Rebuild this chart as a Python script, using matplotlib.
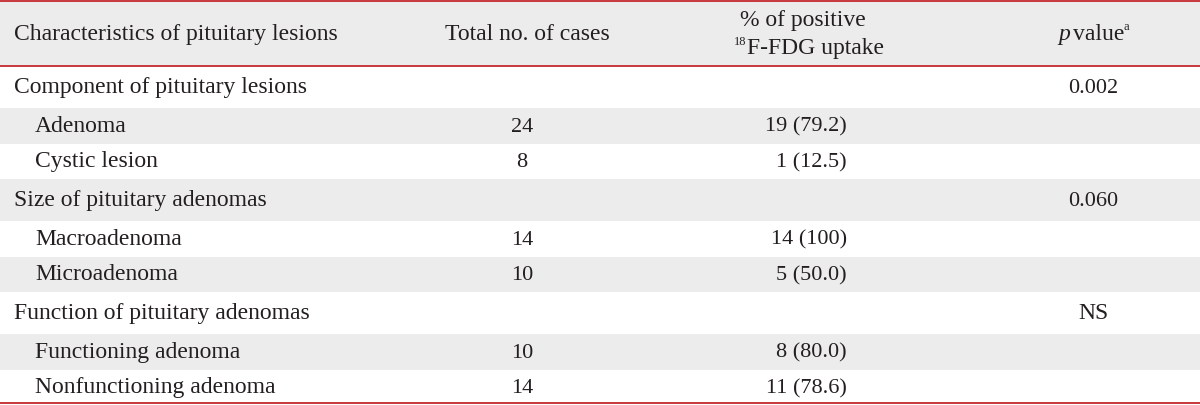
import matplotlib
matplotlib.use("Agg")
import matplotlib.pyplot as plt
from matplotlib.patches import Rectangle

# table content
labels = ["Component of pituitary lesions", "Adenoma", "Cystic lesion",
          "Size of pituitary adenomas", "Macroadenoma", "Microadenoma",
          "Function of pituitary adenomas", "Functioning adenoma", "Nonfunctioning adenoma"]
is_group = [True, False, False, True, False, False, True, False, False]
total_cases = ["", "24", "8", "", "14", "10", "", "10", "14"]
positive_uptake = ["", "19 (79.2)", "1 (12.5)", "", "14 (100)", "5 (50.0)", "", "8 (80.0)", "11 (78.6)"]
p_values = ["0.002", "", "", "0.060", "", "", "NS", "", ""]

W, H = 1200, 405
red = "#c3282e"
grey = "#ececec"
txt = "#231f20"
fs = 17
fs_num = 16
plt.rcParams['font.family'] = ['Liberation Serif', 'DejaVu Serif']

fig = plt.figure(figsize=(W / 100, H / 100), dpi=100)
ax = fig.add_axes([0, 0, 1, 1])
ax.set_xlim(0, W)
ax.set_ylim(H, 0)
ax.axis('off')

kw = dict(color=txt, va='baseline')

# header
ax.add_patch(Rectangle((0, 1), W, 64, color=grey, lw=0))
ax.text(14, 40, "Characteristics of pituitary lesions", fontsize=fs, **kw)
ax.text(527, 40, "Total no. of cases", fontsize=fs, ha='center', **kw)
ax.text(803, 26, "% of positive", fontsize=fs, ha='center', **kw)
ax.text(747, 54, "F-FDG uptake", fontsize=fs, ha='left', **kw)
ax.text(746, 45, "18", fontsize=9, ha='right', **kw)
ax.text(1058, 40, "p", fontsize=fs, style='italic', **kw)
ax.text(1073, 40, "value", fontsize=fs, **kw)
ax.text(1123, 30, "a", fontsize=9, **kw)

# body rows: group rows are taller than sub rows
heights = [42 if g else 35.5 for g in is_group]
y = 66
for i, lab in enumerate(labels):
    h = heights[i]
    if i % 2 == 1:
        ax.add_patch(Rectangle((0, y), W, h, color=grey, lw=0))
    yb = y + h / 2 + 6
    ax.text(14 if is_group[i] else 35, yb, lab, fontsize=fs, **kw)
    ax.text(522, yb, total_cases[i], fontsize=fs_num, ha='center', **kw)
    ax.text(847, yb, positive_uptake[i], fontsize=fs_num, ha='right', **kw)
    pv_fs = fs if p_values[i] == "NS" else fs_num
    ax.text(1093, yb, p_values[i], fontsize=pv_fs, ha='center', **kw)
    y += h

for yl in [1, 65.5, 403]:
    ax.axhline(yl, color=red, lw=1.3)

fig.savefig("out.png", dpi=100)
